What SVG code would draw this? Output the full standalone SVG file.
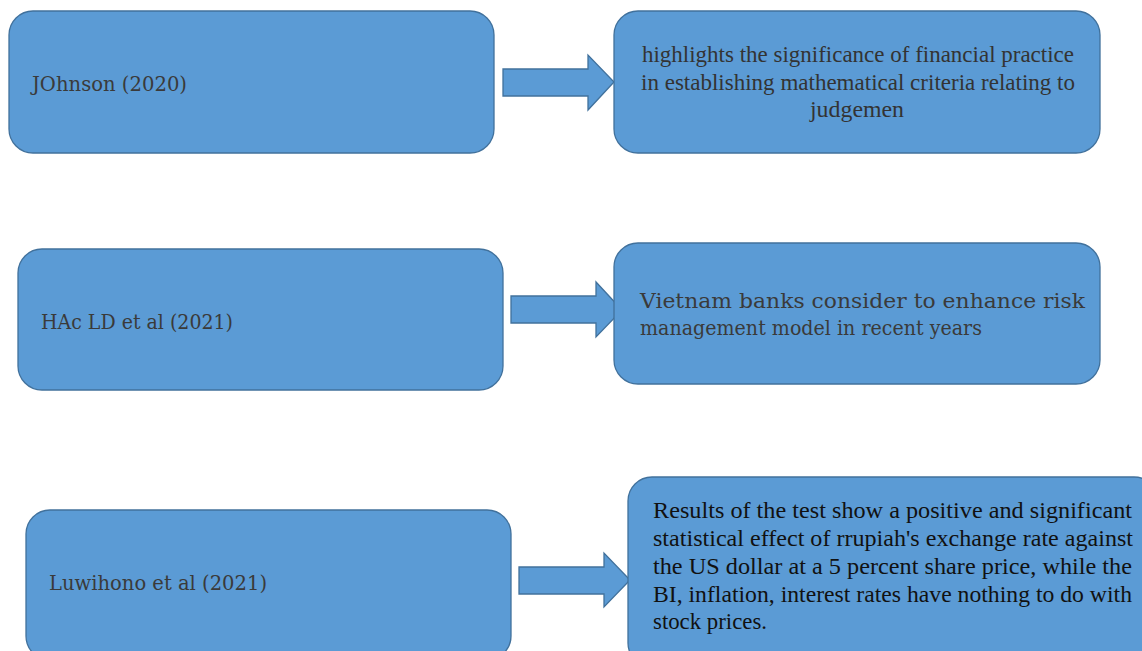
<svg xmlns="http://www.w3.org/2000/svg" width="1142" height="651" viewBox="0 0 1142 651">
<style>
.box{fill:#5B9BD5;stroke:#41719C;stroke-width:1.3}
.arr{fill:#5B9BD5;stroke:#41719C;stroke-width:1.3}
.lbl{font-family:"DejaVu Serif","Liberation Serif",serif;font-size:20px;fill:#3a3a3a}
.tnr{font-family:"Liberation Serif","Times New Roman",serif;font-size:23px;fill:#333}
.blk{font-family:"Liberation Serif","Times New Roman",serif;font-size:23px;fill:#111}
</style>
<rect width="1142" height="651" fill="#fff"/>
<g id="connectors">
<path class="arr" d="M503,69 H588 V55 L614,82 L588,110 V96 H503 Z"/>
<path class="arr" d="M511,296 H596 V282 L622,310 L596,337 V323 H511 Z"/>
<path class="arr" d="M519,567 H604 V553 L630,580 L604,607 V594 H519 Z"/>
</g>
<g id="n1">
<rect class="box" x="9" y="11" width="485" height="142" rx="24"/>
<text class="lbl" x="32" y="91" textLength="155" lengthAdjust="spacingAndGlyphs">JOhnson (2020)</text>
</g>
<g id="n2">
<rect class="box" x="614" y="11" width="486" height="142" rx="24"/>
<text class="tnr" x="642" y="62" textLength="432" lengthAdjust="spacingAndGlyphs">highlights the significance of financial practice</text>
<text class="tnr" x="641" y="90" textLength="434" lengthAdjust="spacingAndGlyphs">in establishing mathematical criteria relating to</text>
<text class="tnr" x="810" y="117" textLength="94" lengthAdjust="spacingAndGlyphs">judgemen</text>
</g>
<g id="n3">
<rect class="box" x="18" y="249" width="485" height="141" rx="24"/>
<text class="lbl" x="41" y="329" textLength="192" lengthAdjust="spacingAndGlyphs">HAc LD et al (2021)</text>
</g>
<g id="n4">
<rect class="box" x="614" y="243" width="486" height="141" rx="24"/>
<text class="lbl" x="640" y="308" textLength="445" lengthAdjust="spacingAndGlyphs">Vietnam banks consider to enhance risk</text>
<text class="lbl" x="640" y="335" textLength="342" lengthAdjust="spacingAndGlyphs">management model in recent years</text>
</g>
<g id="n5">
<rect class="box" x="26" y="510" width="485" height="150" rx="24"/>
<text class="lbl" x="49" y="590" textLength="218" lengthAdjust="spacingAndGlyphs">Luwihono et al (2021)</text>
</g>
<g id="n6">
<rect class="box" x="628" y="477" width="530" height="190" rx="24"/>
<text class="blk" x="653" y="518" textLength="479" lengthAdjust="spacingAndGlyphs">Results of the test show a positive and significant</text>
<text class="blk" x="653" y="546" textLength="480" lengthAdjust="spacingAndGlyphs">statistical effect of rrupiah's exchange rate against</text>
<text class="blk" x="653" y="574" textLength="479" lengthAdjust="spacingAndGlyphs">the US dollar at a 5 percent share price, while the</text>
<text class="blk" x="653" y="602" textLength="479" lengthAdjust="spacingAndGlyphs">BI, inflation, interest rates have nothing to do with</text>
<text class="blk" x="653" y="629" textLength="114" lengthAdjust="spacingAndGlyphs">stock prices.</text>
</g>
</svg>
